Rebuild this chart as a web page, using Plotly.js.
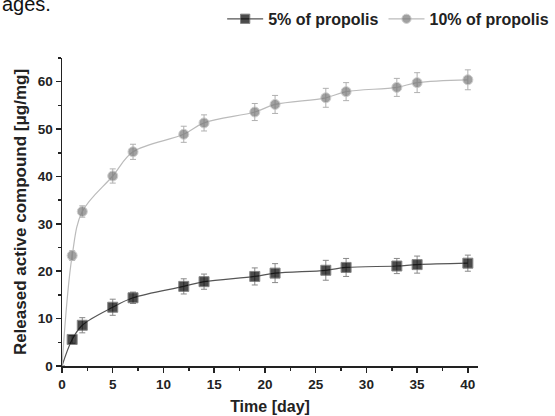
<!DOCTYPE html>
<html>
<head>
<meta charset="utf-8">
<script src="https://cdn.plot.ly/plotly-3.0.1.min.js"></script>
<style>html,body{margin:0;padding:0;background:#fff}#chart{width:555px;height:416px}</style>
</head>
<body>
<div id="chart"></div>
<script>
const days = [0, 1, 2, 5, 7, 12, 14, 19, 21, 26, 28, 33, 35, 40];
const propolis5 = [0, 5.6, 8.6, 12.4, 14.4, 16.8, 17.8, 18.9, 19.6, 20.2, 20.8, 21.1, 21.4, 21.7];
const propolis5Err = [0, 0.8, 1.6, 1.7, 1.2, 1.6, 1.6, 1.8, 2.0, 2.1, 1.9, 1.6, 1.8, 1.7];
const propolis10 = [0, 23.3, 32.6, 40.1, 45.2, 48.9, 51.3, 53.6, 55.2, 56.6, 57.9, 58.8, 59.8, 60.4];
const propolis10Err = [0, 1.0, 1.2, 1.5, 1.6, 1.7, 1.7, 1.8, 1.9, 2.0, 1.9, 1.9, 2.1, 2.1];
const seriesNames = ['5% of propolis', '10% of propolis'];
const xTitle = 'Time [day]';
const yTitle = 'Released active compound [μg/mg]';
const captionFragment = 'ages.';

const FONT = 'Liberation Sans, Arial, sans-serif';
const sizes = days.map(d => d === 0 ? 0 : 10);

function errTrace(y, err, color) {
  return {
    x: days, y: y, type: 'scatter', mode: 'markers', showlegend: false, hoverinfo: 'skip',
    marker: {opacity: 0, size: 1},
    error_y: {type: 'data', array: err, visible: true, color: color, thickness: 1, width: 3}
  };
}

const traces = [
  errTrace(propolis5, propolis5Err, '#888'),
  errTrace(propolis10, propolis10Err, '#b0b0b0'),
  {
    x: days, y: propolis5, name: seriesNames[0], type: 'scatter', mode: 'lines+markers',
    line: {shape: 'spline', smoothing: 1, color: '#555', width: 1.2},
    marker: {symbol: 'square', color: '#000', size: sizes}
  },
  {
    x: days, y: propolis10, name: seriesNames[1], type: 'scatter', mode: 'lines+markers',
    line: {shape: 'spline', smoothing: 1, color: '#bbb', width: 1.2},
    marker: {symbol: 'circle', color: '#7a7a7a', size: sizes}
  }
];

const axisCommon = {
  showgrid: false, zeroline: false, showline: true, linecolor: '#222', linewidth: 1.5,
  ticks: 'outside', ticklen: 5, tickwidth: 1.5, tickcolor: '#222',
  tickfont: {family: FONT, size: 13.5, color: '#222', weight: 'bold'}
};

const layout = {
  width: 555, height: 416,
  margin: {l: 62, r: 77, t: 58, b: 50, autoexpand: false},
  paper_bgcolor: '#fff', plot_bgcolor: '#fff',
  showlegend: true,
  legend: {
    orientation: 'h', x: 0.385, xanchor: 'left', y: 1.127, yanchor: 'middle',
    font: {family: FONT, size: 16, color: '#222', weight: 'bold'},
    bgcolor: 'rgba(0,0,0,0)', tracegroupgap: 0, itemwidth: 36
  },
  xaxis: Object.assign({}, axisCommon, {
    range: [0, 41], dtick: 5, tick0: 0,
    minor: {dtick: 2.5, ticks: 'outside', ticklen: 3, tickwidth: 1.5, tickcolor: '#222'},
    title: {text: xTitle, font: {family: FONT, size: 16, color: '#222', weight: 'bold'}, standoff: 10}
  }),
  yaxis: Object.assign({}, axisCommon, {
    range: [0, 65], dtick: 10, tick0: 0,
    minor: {dtick: 5, ticks: 'outside', ticklen: 3, tickwidth: 1.5, tickcolor: '#222'},
    title: {text: yTitle, font: {family: FONT, size: 17, color: '#222', weight: 'bold'}, standoff: 7}
  }),
  annotations: [{
    text: captionFragment, xref: 'paper', yref: 'paper', x: -0.149, y: 1.176,
    xanchor: 'left', yanchor: 'middle', showarrow: false,
    font: {family: FONT, size: 20, color: '#111'}
  }]
};

Plotly.newPlot('chart', traces, layout, {displayModeBar: false, staticPlot: true});
</script>
</body>
</html>
